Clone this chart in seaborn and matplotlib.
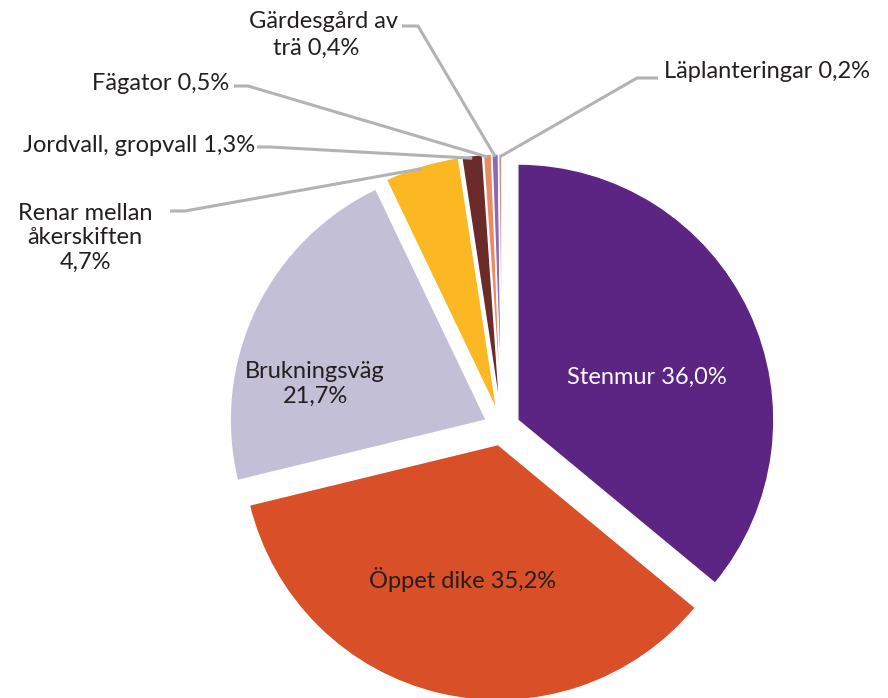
import numpy as np
import matplotlib
matplotlib.use("Agg")
import matplotlib.pyplot as plt
import seaborn as sns

categories = ["Stenmur", "Öppet dike", "Brukningsväg", "Renar mellan åkerskiften",
              "Jordvall, gropvall", "Fägator", "Gärdesgård av trä", "Läplanteringar"]
values = [36.0, 35.2, 21.7, 4.7, 1.3, 0.5, 0.4, 0.2]
label_texts = ["Stenmur 36,0%", "Öppet dike 35,2%", "Brukningsväg\n21,7%",
               "Renar mellan\nåkerskiften\n4,7%", "Jordvall, gropvall 1,3%",
               "Fägator 0,5%", "Gärdesgård av\nträ 0,4%", "Läplanteringar 0,2%"]
colors = ["#5C2483", "#D94F28", "#C3BFD7", "#FBB823", "#6B2B2B",
          "#EC8A63", "#8F69B3", "#C99485"]

sns.set_theme(style="white")
plt.rcParams['font.family'] = ['Lato', 'DejaVu Sans']

W, H = 888, 698
fig = plt.figure(figsize=(W / 100, H / 100), dpi=100)
ax = fig.add_axes([0, 0, 1, 1])

cx, cy, R = 502, H - 427.5, 256
wedges, _ = ax.pie(values, colors=colors, startangle=90, counterclock=False,
                   explode=[17.5] * len(values), radius=R, center=(cx, cy),
                   wedgeprops=dict(linewidth=1.0, edgecolor="white"), frame=True)
ax.set_xlim(0, W)
ax.set_ylim(0, H)
ax.set_aspect("equal")
ax.axis("off")

txt_col = "#231F20"
fs = 17
ls = 1.18

def P(x, y):
    return x, H - y

# inside labels
ax.text(*P(647, 377), label_texts[0], color="white", fontsize=fs, ha="center", va="center")
ax.text(*P(463, 580), label_texts[1], color=txt_col, fontsize=fs, ha="center", va="center")
ax.text(*P(315, 384), label_texts[2], color=txt_col, fontsize=fs, ha="center", va="center",
        linespacing=ls)

def anchor(w, frac=1.0):
    ang = np.deg2rad((w.theta1 + w.theta2) / 2)
    x0, y0 = w.center
    return x0 + w.r * frac * np.cos(ang), y0 + w.r * frac * np.sin(ang)

lc = "#B3B3B3"
outs = [
    (3, (185, 211), (170, 211), (85, 238), "center", "center"),
    (4, (270, 147), (257, 147), (255, 146), "right", "center"),
    (5, (248, 86), (234, 86), (229, 84), "right", "center"),
    (6, (418, 26), (402, 26), (None, None), "right", "center"),
    (7, (637, 78), (658, 78), (664, 71), "left", "center"),
]
for i, elbow, end, tp, ha, va in outs:
    ax_, ay_ = anchor(wedges[i], 0.99)
    ex, ey = P(*elbow)
    nx, ny = P(*end)
    ax.plot([ax_, ex, nx], [ay_, ey, ny], color=lc, lw=2.2, solid_capstyle="butt")
    if i == 6:
        ax.text(*P(398, 22), "Gärdesgård av", color=txt_col, fontsize=fs, ha="right", va="center")
        ax.text(*P(316, 48), "trä 0,4%", color=txt_col, fontsize=fs, ha="center", va="center")
    else:
        ax.text(*P(*tp), label_texts[i], color=txt_col, fontsize=fs, ha=ha, va=va,
                linespacing=ls)

fig.savefig("out.png", dpi=100)
